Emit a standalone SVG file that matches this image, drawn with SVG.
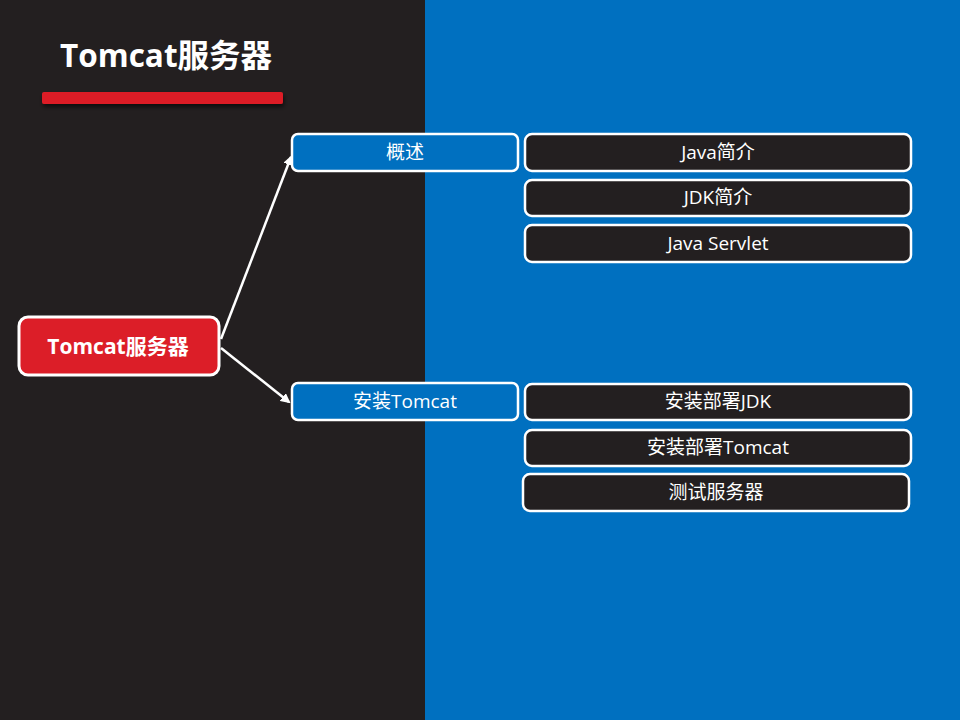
<svg xmlns="http://www.w3.org/2000/svg" width="960" height="720" viewBox="0 0 960 720">
<defs>
<style>
.t{font-family:"Open Sans","Noto Sans CJK SC",sans-serif;fill:#fff;text-anchor:middle;dominant-baseline:central}
.sub{fill:#231F20;stroke:#fff;stroke-width:2.5}
.mid{fill:#0070C0;stroke:#fff;stroke-width:2.5}
.c{stroke:#fff;stroke-width:2.5;fill:none;marker-end:url(#ah)}
</style>
<marker id="ah" viewBox="0 0 10 10" refX="8" refY="5" markerWidth="4" markerHeight="4" orient="auto" markerUnits="strokeWidth">
<path d="M0,0 L10,5 L0,10 z" fill="#fff"/>
</marker>
<filter id="sh" x="-10%" y="-50%" width="120%" height="250%">
<feDropShadow dx="1" dy="3" stdDeviation="2" flood-color="#000" flood-opacity="0.6"/>
</filter>
</defs>
<rect x="0" y="0" width="425" height="720" fill="#231F20"/>
<rect x="425" y="0" width="535" height="720" fill="#0070C0"/>
<g id="title">
<text x="60" y="54" font-family="'Open Sans','Noto Sans CJK SC',sans-serif" font-weight="bold" font-size="31.5" fill="#fff" dominant-baseline="central">Tomcat服务器</text>
<rect x="42" y="92" width="241" height="12" rx="2" fill="#DC1E28" filter="url(#sh)"/>
</g>
<g id="connectors">
<path class="c" d="M221,339 L291,157"/>
<path class="c" d="M221,348 L289,402"/>
</g>
<g id="root">
<rect x="19" y="317" width="200" height="58" rx="9" fill="#DC1E28" stroke="#fff" stroke-width="3"/>
<text class="t" x="118" y="346" font-size="21" font-weight="bold">Tomcat服务器</text>
</g>
<g id="n-overview">
<rect class="mid" x="292" y="134" width="226" height="37" rx="6"/>
<text class="t" x="405" y="152" font-size="19">概述</text>
</g>
<g id="n-install">
<rect class="mid" x="292" y="383" width="226" height="37" rx="6"/>
<text class="t" x="405" y="401" font-size="19">安装Tomcat</text>
</g>
<g id="n-java">
<rect class="sub" x="525" y="134" width="386" height="37" rx="7"/>
<text class="t" x="718" y="152" font-size="19">Java简介</text>
</g>
<g id="n-jdk">
<rect class="sub" x="525" y="180" width="386" height="36" rx="7"/>
<text class="t" x="718" y="197" font-size="19">JDK简介</text>
</g>
<g id="n-servlet">
<rect class="sub" x="525" y="225" width="386" height="37" rx="7"/>
<text class="t" x="718" y="243" font-size="19">Java Servlet</text>
</g>
<g id="n-installjdk">
<rect class="sub" x="525" y="384" width="386" height="36" rx="7"/>
<text class="t" x="718" y="401" font-size="19">安装部署JDK</text>
</g>
<g id="n-installtomcat">
<rect class="sub" x="525" y="430" width="386" height="36" rx="7"/>
<text class="t" x="718" y="447" font-size="19">安装部署Tomcat</text>
</g>
<g id="n-test">
<rect class="sub" x="523" y="474" width="386" height="37" rx="7"/>
<text class="t" x="716" y="492" font-size="19">测试服务器</text>
</g>
</svg>
